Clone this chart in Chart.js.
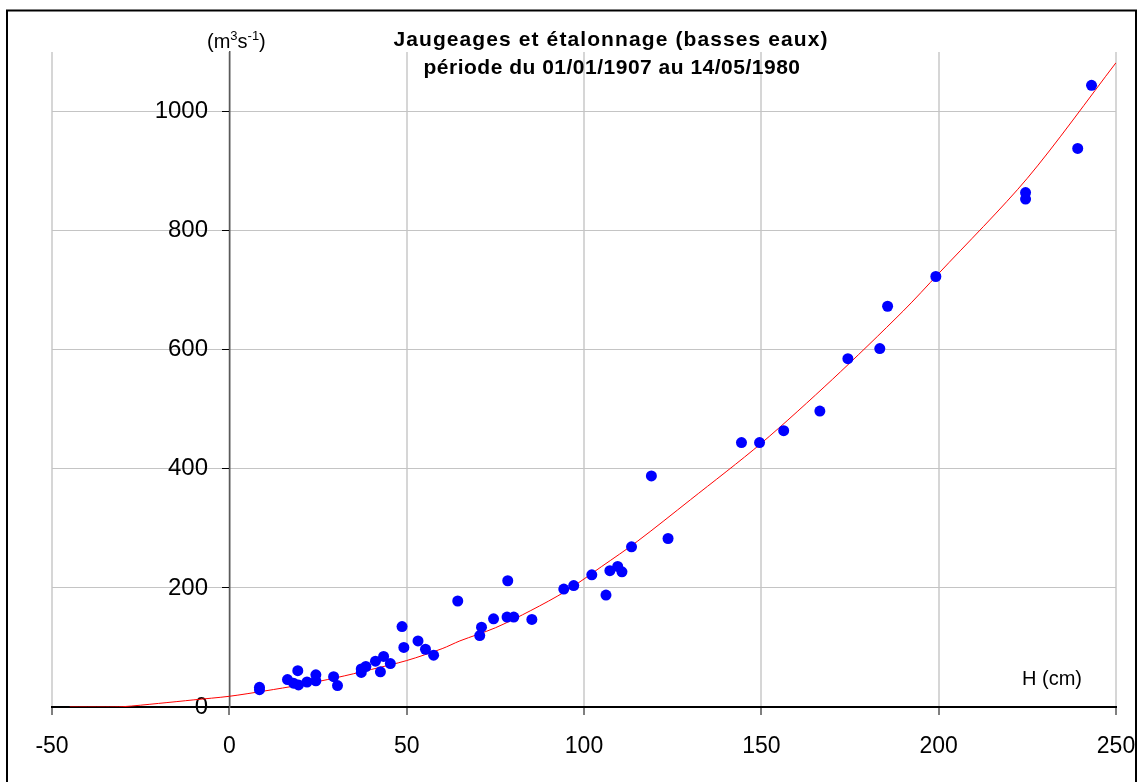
<!DOCTYPE html>
<html>
<head>
<meta charset="utf-8">
<script src="https://cdn.jsdelivr.net/npm/chart.js@4/dist/chart.umd.min.js"></script>
<style>
  html, body { margin: 0; padding: 0; background: #fff; }
  #wrap { width: 1140px; height: 782px; }
</style>
</head>
<body>
<div id="wrap"><canvas id="rating" width="1140" height="782"></canvas></div>
<script>
// gaugings: water level H (cm) and discharge Q (m3/s)
const gaugeH = [8.5, 8.5, 16.4, 18.1, 19.3, 19.5, 21.9, 24.4, 24.4, 29.4, 30.5,
    37.2, 37.2, 38.5, 41.2, 42.6, 43.5, 45.4, 48.7, 49.2, 53.2, 55.3, 57.6,
    64.4, 70.6, 71.1, 74.5, 78.3, 78.5, 80.2, 85.3, 94.3, 97.1, 102.2, 106.2,
    107.3, 109.5, 110.7, 113.4, 119.0, 123.7, 144.4, 149.5, 156.3, 166.5,
    174.4, 183.4, 185.6, 199.2, 224.5, 224.5, 239.2, 243.1];
const gaugeQ = [29, 33, 46, 40, 61, 37, 42, 54, 44, 51, 36,
    58, 64, 68, 77, 59, 85, 73, 135, 100, 111, 97, 87,
    178, 120, 134, 148, 151, 212, 151, 147, 198, 204, 222, 188,
    229, 236, 227, 269, 388, 283, 444, 444, 464, 497,
    585, 602, 673, 723, 864, 853, 938, 1044];

// rating curve (étalonnage)
const curveH = [-45, -35, -30, -20, -10, 0, 10, 20, 30, 40, 50, 60, 65, 75,
    85, 95, 105, 115, 130, 150, 170, 190, 200, 225, 250, 252];
const curveQ = [0, 0, 0.5, 6, 12, 18, 27, 37, 49, 63, 78, 98, 111, 133,
    162, 195, 236, 278, 348, 443, 550, 665, 728, 888, 1082, 1098];

const xTickStep = 50;
const yTickStep = 200;

const FONT = '"Liberation Sans", Arial, sans-serif';

const toPoints = (xs, ys) => xs.map((x, i) => ({ x: x, y: ys[i] }));
const onStep = (c) => c.tick && c.tick.value % yTickStep === 0;

// frame, title and unit labels
const decorations = {
    id: 'decorations',
    afterDraw(chart) {
        const ctx = chart.ctx;
        ctx.save();
        ctx.strokeStyle = '#000';
        ctx.lineWidth = 2;
        ctx.strokeRect(7, 10.5, 1129, 790);

        ctx.fillStyle = '#000';
        ctx.textAlign = 'center';
        ctx.textBaseline = 'alphabetic';
        ctx.font = 'bold 21px ' + FONT;
        ctx.letterSpacing = '1.1px';
        ctx.fillText('Jaugeages et étalonnage (basses eaux)', 611, 46);
        ctx.letterSpacing = '0.5px';
        ctx.fillText('période du 01/01/1907 au 14/05/1980', 612, 74);
        ctx.letterSpacing = '0px';

        // (m3s-1) with superscripts
        ctx.textAlign = 'left';
        let x = 207;
        const base = 48;
        const part = (txt, size, dy) => {
            ctx.font = size + 'px ' + FONT;
            ctx.fillText(txt, x, base + dy);
            x += ctx.measureText(txt).width;
        };
        part('(m', 20, 0);
        part('3', 13, -8);
        part('s', 20, 0);
        part('-1', 13, -8);
        part(')', 20, 0);

        ctx.font = '20px ' + FONT;
        ctx.fillText('H (cm)', 1022, 685);
        ctx.restore();
    }
};

new Chart(document.getElementById('rating'), {
    type: 'scatter',
    data: {
        datasets: [{
            label: 'Etalonnage',
            data: toPoints(curveH, curveQ),
            showLine: true,
            borderColor: '#ff0000',
            borderWidth: 1,
            pointRadius: 0,
            tension: 0.3,
            order: 2
        }, {
            label: 'Jaugeages',
            data: toPoints(gaugeH, gaugeQ),
            backgroundColor: '#0000ff',
            borderColor: '#0000ff',
            pointRadius: 5.5,
            pointBorderWidth: 0,
            order: 1
        }]
    },
    options: {
        responsive: false,
        devicePixelRatio: 1,
        animation: false,
        layout: { padding: { left: 52, right: 24, top: 52, bottom: 75 } },
        plugins: {
            legend: { display: false },
            tooltip: { enabled: false },
            title: { display: false }
        },
        scales: {
            x: {
                type: 'linear',
                min: -50,
                max: 250,
                position: { y: 0 },
                afterFit: (s) => { s.paddingLeft = 0; s.paddingRight = 0; },
                ticks: {
                    stepSize: xTickStep,
                    color: '#000',
                    font: { family: FONT, size: 23 },
                    padding: 19,
                    maxRotation: 0
                },
                grid: {
                    color: '#d6d6d6',
                    lineWidth: 2,
                    tickColor: '#000',
                    tickLength: 7,
                    tickWidth: 1
                },
                border: { color: '#000', width: 2 }
            },
            // axis line, gridlines and tick marks at H = 0
            y: {
                type: 'linear',
                min: 0,
                max: 1100,
                position: { x: 0 },
                afterFit: (s) => { s.paddingTop = 0; s.paddingBottom = 0; },
                ticks: { stepSize: yTickStep, display: false },
                grid: {
                    color: (c) => (onStep(c) ? '#c4c4c4' : 'rgba(0,0,0,0)'),
                    lineWidth: 1,
                    tickColor: (c) => (onStep(c) ? '#000' : 'rgba(0,0,0,0)'),
                    tickLength: 7
                },
                border: { color: '#5a5a5a', width: 1.5 }
            },
            // tick labels for Q, set off to the left of the axis
            yLabels: {
                type: 'linear',
                axis: 'y',
                min: 0,
                max: 1100,
                position: { x: -6 },
                afterFit: (s) => { s.paddingTop = 0; s.paddingBottom = 0; },
                ticks: {
                    stepSize: yTickStep,
                    color: '#000',
                    font: { family: FONT, size: 24 },
                    callback: (v) => (v % yTickStep === 0 ? v : '')
                },
                grid: { display: false },
                border: { display: false }
            }
        }
    },
    plugins: [decorations]
});
</script>
</body>
</html>
